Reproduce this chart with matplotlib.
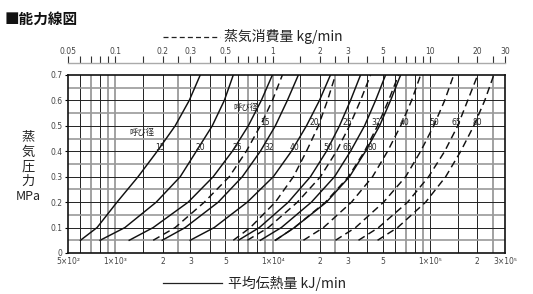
import matplotlib
matplotlib.use('Agg')
import matplotlib.pyplot as plt
from matplotlib.lines import Line2D
from matplotlib.ticker import NullLocator, FixedLocator, NullFormatter

plt.rcParams['font.family'] = ['Noto Sans CJK JP', 'DejaVu Sans']

# ---------------- data ----------------
pressure = [0.05, 0.1, 0.2, 0.3, 0.4, 0.5, 0.6, 0.7]          # MPa
sizes = ['15', '20', '25', '32', '40', '50', '65', '80']        # 呼び径

# solid: 平均伝熱量 kJ/min
heat_15 = [600, 765, 1025, 1395, 1845, 2400, 2950, 3465]
heat_20 = [800, 1150, 1820, 2585, 3270, 4130, 4930, 5620]
heat_25 = [1225, 1740, 2905, 4190, 5540, 7000, 8470, 9960]
heat_32 = [1985, 2780, 4510, 6415, 8350, 10400, 12400, 14570]
heat_40 = [2990, 4250, 6900, 10100, 13160, 16400, 19840, 23300]
heat_50 = [6050, 8230, 12580, 17390, 21990, 26600, 31260, 36200]
heat_65 = [8350, 11360, 17640, 24730, 31260, 38390, 45100, 52220]
heat_80 = [10400, 13750, 21990, 30800, 38950, 47830, 56200, 65100]

# dashed: 蒸気消費量 kg/min
steam_15 = [0.174, 0.240, 0.368, 0.530, 0.680, 0.835, 0.996, 1.153]
steam_20 = [0.562, 0.721, 1.040, 1.355, 1.640, 1.954, 2.231, 2.509]
steam_25 = [0.690, 0.939, 1.437, 2.014, 2.546, 3.080, 3.620, 4.192]
steam_32 = [1.040, 1.375, 2.167, 3.034, 3.839, 4.644, 5.455, 6.317]
steam_40 = [1.569, 2.104, 3.172, 4.316, 5.378, 6.510, 7.647, 8.725]
steam_50 = [2.509, 3.364, 5.072, 7.005, 8.725, 10.56, 12.41, 14.16]
steam_65 = [3.514, 4.711, 7.213, 9.807, 12.41, 15.01, 17.38, 20.13]
steam_80 = [4.644, 6.227, 9.388, 12.59, 15.69, 18.99, 22.31, 25.46]

heat_label_x = [1930, 3465, 5960, 9530, 13750, 22630, 29910, 43160]
heat_label_p = 0.415
steam_label_x = [0.90, 1.84, 2.99, 4.58, 6.90, 10.7, 14.8, 20.1]
steam_label_p = 0.515
heat_note = (1480, 0.472)
steam_note = (0.68, 0.571)

bottom_ticks = [500, 1000, 2000, 3000, 5000, 10000, 20000, 30000, 50000, 100000, 200000, 300000]
bottom_labels = ['5×10²', '1×10³', '2', '3', '5', '1×10⁴', '2', '3', '5', '1×10⁵', '2', '3×10⁵']
top_ticks = [0.05, 0.1, 0.2, 0.3, 0.5, 1, 2, 3, 5, 10, 20, 30]
top_labels = ['0.05', '0.1', '0.2', '0.3', '0.5', '1', '2', '3', '5', '10', '20', '30']
top_minor = [0.06, 0.07, 0.08, 0.09, 0.15, 0.25, 0.4, 0.6, 0.7, 0.8, 0.9, 1.5, 2.5,
             4, 6, 7, 8, 9, 15, 25]
y_ticks = [0, 0.1, 0.2, 0.3, 0.4, 0.5, 0.6, 0.7]
y_labels = ['0', '0.1', '0.2', '0.3', '0.4', '0.5', '0.6', '0.7']

vgrid = [600, 700, 800, 900, 1000, 1500, 2000, 2500, 3000, 4000, 5000, 6000, 7000, 8000,
         9000, 10000, 15000, 20000, 25000, 30000, 40000, 50000, 60000, 70000, 80000,
         90000, 100000, 150000, 200000, 250000]
vgrid_grey = [700, 900, 1000, 2500, 7000, 9000, 10000, 25000, 70000, 90000, 250000]
hgrid = [0.05, 0.1, 0.15, 0.2, 0.25, 0.3, 0.35, 0.4, 0.45, 0.5, 0.55, 0.6, 0.65]

# ---------------- figure ----------------
W, H = 533, 294
fig = plt.figure(figsize=(W / 100, H / 100), dpi=100)
fx = lambda px: px / W
fy = lambda py: 1 - py / H

ax = fig.add_axes([fx(68), fy(253), 437 / W, 178 / H])
ax.set_xscale('log')
ax.set_xlim(500, 3e5)
ax.set_ylim(0, 0.7)

for v in vgrid:
    if v in vgrid_grey:
        ax.axvline(v, color='#9a9a9a', lw=1.3, zorder=1)
    else:
        ax.axvline(v, color='#222222', lw=0.7, zorder=1)
for h in hgrid:
    if round(h * 20) % 2 == 1:
        ax.axhline(h, color='#9a9a9a', lw=1.2, zorder=1)
    else:
        ax.axhline(h, color='#222222', lw=0.7, zorder=1)

ax.xaxis.set_major_locator(FixedLocator(bottom_ticks))
ax.xaxis.set_minor_locator(NullLocator())
ax.set_xticklabels(bottom_labels)
ax.set_yticks(y_ticks)
ax.set_yticklabels(y_labels)
ax.tick_params(axis='x', length=0, pad=3, labelsize=5.5, labelcolor='#444444')
ax.tick_params(axis='y', length=2, pad=2, labelsize=5.5, labelcolor='#444444')
for lab in ax.get_xticklabels() + ax.get_yticklabels():
    lab.set_family('DejaVu Sans')
for s in ax.spines.values():
    s.set_linewidth(1.2)
    s.set_color('#111111')

heat_series = [heat_15, heat_20, heat_25, heat_32, heat_40, heat_50, heat_65, heat_80]
for q in heat_series:
    ax.plot(q, pressure, color='#111111', lw=1.05, zorder=3)

ax2 = ax.twiny()
ax2.set_xscale('log')
ax2.set_xlim(0.05, 30)
ax2.set_ylim(0, 0.7)
ax2.set_axis_off()
steam_series = [steam_15, steam_20, steam_25, steam_32, steam_40, steam_50, steam_65, steam_80]
for m in steam_series:
    ax2.plot(m, pressure, color='#111111', lw=1.05, ls=(0, (5, 3)), zorder=3)

for x, s in zip(heat_label_x, sizes):
    ax.text(x, heat_label_p, s, fontsize=5.5, ha='center', va='center', color='#222222',
            family='DejaVu Sans', zorder=4)
for x, s in zip(steam_label_x, sizes):
    ax2.text(x, steam_label_p, s, fontsize=5.5, ha='center', va='center', color='#222222',
             family='DejaVu Sans', zorder=4)
ax.text(heat_note[0], heat_note[1], '呼び径', fontsize=6, ha='center', va='center', color='#222222')
ax2.text(steam_note[0], steam_note[1], '呼び径', fontsize=6, ha='center', va='center', color='#222222')

# top ruler (kg/min)
axr = fig.add_axes([fx(68), fy(63), 437 / W, 6 / H])
axr.set_xscale('log')
axr.set_xlim(0.05, 30)
axr.set_ylim(0, 1)
axr.patch.set_visible(False)
axr.yaxis.set_visible(False)
for k in ['top', 'left', 'right']:
    axr.spines[k].set_visible(False)
axr.spines['bottom'].set_color('#aaaaaa')
axr.spines['bottom'].set_linewidth(1.0)
axr.xaxis.set_major_locator(FixedLocator(top_ticks))
axr.xaxis.set_minor_locator(FixedLocator(top_minor))
axr.xaxis.set_minor_formatter(NullFormatter())
axr.set_xticklabels(top_labels)
axr.tick_params(axis='x', which='both', direction='in', bottom=True, top=False,
                labelbottom=False, labeltop=True, length=5, width=0.8, color='#333333',
                labelsize=5.5, labelcolor='#444444', pad=1)
for lab in axr.get_xticklabels():
    lab.set_family('DejaVu Sans')

# texts
fig.text(fx(5), fy(19), '■能力線図', fontsize=10.5, fontweight='bold', va='center', ha='left',
         color='#111111')
fig.add_artist(Line2D([fx(163), fx(220)], [fy(37), fy(37)], transform=fig.transFigure,
                      ls=(0, (4, 2.5)), lw=0.9, color='#222222'))
fig.text(fx(224), fy(37), '蒸気消費量 kg/min', fontsize=10, va='center', ha='left', color='#222222')
fig.add_artist(Line2D([fx(163), fx(222)], [fy(283), fy(283)], transform=fig.transFigure,
                      lw=0.9, color='#222222'))
fig.text(fx(228), fy(283), '平均伝熱量 kJ/min', fontsize=10, va='center', ha='left', color='#222222')

for ch, yy in zip(['蒸', '気', '圧', '力'], [137, 152, 167, 181]):
    fig.text(fx(28), fy(yy), ch, fontsize=9.5, ha='center', va='center', color='#222222')
fig.text(fx(28), fy(197), 'MPa', fontsize=9, ha='center', va='center', color='#222222')

fig.savefig('out.png', dpi=100)
